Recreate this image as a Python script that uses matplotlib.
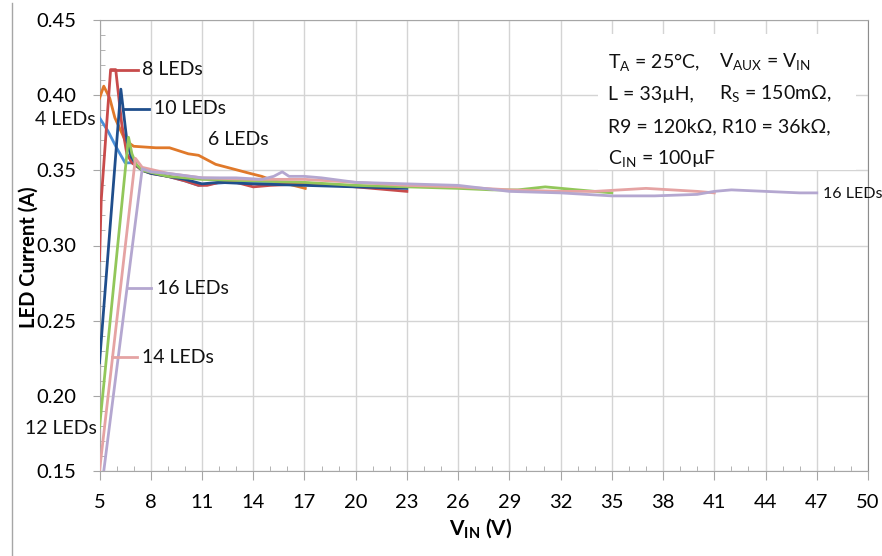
import matplotlib
matplotlib.use('Agg')
import matplotlib.pyplot as plt
import numpy as np
from matplotlib.lines import Line2D
from matplotlib.patches import Rectangle
from matplotlib.ticker import MultipleLocator, FormatStrFormatter

plt.rcParams['font.family'] = ['Lato', 'DejaVu Sans']

# measured LED current vs input voltage, one pair of lists per LED count
led4_v = [5.0, 5.5, 6.0, 6.5, 6.9, 7.5, 8.0, 9.0, 10.0, 10.8, 11.5, 12.5, 14.0, 15.5, 17.0]
led4_i = [0.385, 0.376, 0.365, 0.355, 0.355, 0.351, 0.349, 0.346, 0.343, 0.340, 0.341, 0.342, 0.342, 0.341, 0.341]

led6_v = [5.0, 5.25, 5.6, 5.9, 6.5, 7.0, 8.3, 9.1, 10.2, 10.8, 11.8, 12.8, 13.8, 14.5, 15.2, 16.0, 17.05]
led6_i = [0.398, 0.406, 0.398, 0.385, 0.370, 0.366, 0.365, 0.365, 0.361, 0.360, 0.354, 0.351, 0.348, 0.346, 0.343, 0.341, 0.338]

led8_v = [5.0, 5.1, 5.65, 5.95, 6.3, 6.6, 6.9, 7.5, 8.0, 9.0, 10.0, 10.8, 11.3, 12.0, 13.0, 14.0, 15.0, 17.0, 19.0, 21.0, 23.0]
led8_i = [0.290, 0.330, 0.417, 0.417, 0.381, 0.361, 0.355, 0.350, 0.348, 0.346, 0.343, 0.340, 0.340, 0.342, 0.342, 0.339, 0.340, 0.341, 0.340, 0.338, 0.336]

led10_v = [5.0, 6.25, 6.6, 6.85, 7.2, 7.5, 8.0, 9.0, 10.0, 11.0, 12.0, 14.0, 17.0, 20.0, 23.0]
led10_i = [0.222, 0.404, 0.370, 0.359, 0.353, 0.350, 0.348, 0.346, 0.344, 0.341, 0.342, 0.341, 0.340, 0.339, 0.338]

led12_v = [5.0, 6.7, 6.9, 7.15, 7.5, 9.0, 11.0, 14.0, 17.0, 20.0, 23.0, 26.0, 28.0, 29.5, 31.1, 33.0, 35.0]
led12_i = [0.179, 0.372, 0.361, 0.354, 0.350, 0.346, 0.344, 0.343, 0.342, 0.340, 0.339, 0.338, 0.337, 0.337, 0.339, 0.337, 0.335]

led14_v = [5.0, 7.1, 7.5, 9.0, 11.0, 14.0, 17.0, 20.0, 23.0, 26.0, 29.0, 32.0, 34.0, 35.5, 37.0, 38.5, 40.0, 41.0]
led14_i = [0.150, 0.358, 0.352, 0.348, 0.345, 0.344, 0.344, 0.342, 0.340, 0.339, 0.337, 0.336, 0.336, 0.337, 0.338, 0.337, 0.336, 0.335]

led16_v = [5.25, 7.5, 8.0, 9.0, 11.0, 13.0, 14.5, 15.2, 15.7, 16.1, 17.0, 18.0, 20.0, 23.0, 26.0, 29.0,
           32.0, 35.0, 37.5, 40.0, 41.0, 42.0, 44.0, 46.0, 47.0]
led16_i = [0.150, 0.351, 0.349, 0.348, 0.345, 0.345, 0.344, 0.346, 0.349, 0.346, 0.346, 0.345, 0.342, 0.341, 0.340, 0.336,
           0.335, 0.333, 0.333, 0.334, 0.336, 0.337, 0.336, 0.335, 0.335]

series_names = ['4 LEDs', '6 LEDs', '8 LEDs', '10 LEDs', '12 LEDs', '14 LEDs', '16 LEDs']
series_colors = ['#4A90D9', '#E0792A', '#C84B4B', '#1F4E8C', '#92C75A', '#E5A3A3', '#B4A7D0']
series_data = [(led4_v, led4_i), (led6_v, led6_i), (led8_v, led8_i), (led10_v, led10_i),
               (led12_v, led12_i), (led14_v, led14_i), (led16_v, led16_i)]

x_ticks = list(range(5, 51, 3))
y_ticks = [0.15, 0.20, 0.25, 0.30, 0.35, 0.40, 0.45]

fig = plt.figure(figsize=(8.82, 5.56), dpi=100)
ax = fig.add_axes([99.5 / 882, 1 - 471 / 556, 768.5 / 882, 451 / 556])
ax.set_axisbelow(True)

for (v, i), color in zip(series_data, series_colors):
    ax.plot(v, i, color=color, lw=2.0, solid_joinstyle='round', zorder=3)

ax.set_xlim(5, 50)
ax.set_ylim(0.15, 0.45)
ax.set_xticks(x_ticks)
ax.set_yticks(y_ticks)
ax.xaxis.set_minor_locator(MultipleLocator(1))
ax.yaxis.set_minor_locator(MultipleLocator(0.01))
ax.yaxis.set_major_formatter(FormatStrFormatter('%.2f'))
ax.grid(True, which='major', color='#D4D4D4', lw=1.0)

ax.tick_params(axis='both', which='major', direction='out', color='#A6A6A6', labelsize=14.5)
ax.tick_params(axis='x', which='major', length=6.5, pad=10)
ax.tick_params(axis='y', which='major', length=5, pad=12)
ax.tick_params(axis='both', which='minor', direction='in', length=3.6, color='#A6A6A6')
for side in ['left', 'bottom', 'top']:
    ax.spines[side].set_color('#A6A6A6')
ax.spines['right'].set_color('#8C8C8C')

ax.set_xlabel(r'V$_\mathregular{IN}$ (V)', fontsize=15, fontweight='bold')
ax.set_ylabel('LED Current (A)', fontsize=14.5, fontweight='bold')
ax.xaxis.set_label_coords(0.496, -0.102)
ax.yaxis.set_label_coords(-0.079, 0.475)

# series labels: (text, x, y, ha, fontsize, leader line x range or None, colour)
label_specs = [
    ('4 LEDs', 4.8, 0.3835, 'right', 14, None, '#4A90D9'),
    ('12 LEDs', 4.85, 0.178, 'right', 14, None, '#92C75A'),
    ('8 LEDs', 7.5, 0.417, 'left', 14, (5.7, 7.25), '#C84B4B'),
    ('10 LEDs', 8.2, 0.391, 'left', 14, (6.4, 7.9), '#1F4E8C'),
    ('6 LEDs', 11.35, 0.3708, 'left', 14, None, '#E0792A'),
    ('16 LEDs', 8.35, 0.2716, 'left', 14, (6.65, 8.0), '#B4A7D0'),
    ('14 LEDs', 7.5, 0.2256, 'left', 14, (5.75, 7.2), '#E5A3A3'),
    ('16 LEDs', 47.35, 0.3342, 'left', 11.5, None, '#B4A7D0'),
]
for text, x, y, ha, fs, leader, color in label_specs:
    if leader is not None:
        ax.plot(leader, [y, y], color=color, lw=2.0, zorder=3)
    ax.text(x, y, text, ha=ha, va='center', fontsize=fs, color='#111111', clip_on=False, zorder=4)

# conditions box, white background hides the grid
ax.add_patch(Rectangle((34.2, 0.3499), 15.1, 0.0910, facecolor='white', edgecolor='none', zorder=1))
cond_left = [
    (r'T$_\mathregular{A}$ = 25°C,', 0.4218),
    (r'L = 33µH,', 0.4005),
    (r'R9 = 120kΩ, R10 = 36kΩ,', 0.3792),
    (r'C$_\mathregular{IN}$ = 100µF', 0.3572),
]
cond_right = [
    (r'V$_\mathregular{AUX}$ = V$_\mathregular{IN}$', 0.4218),
    (r'R$_\mathregular{S}$ = 150mΩ,', 0.4005),
]
for text, y in cond_left:
    ax.text(34.8, y, text, fontsize=14, va='center', ha='left', color='#111111', zorder=4)
for text, y in cond_right:
    ax.text(41.3, y, text, fontsize=14, va='center', ha='left', color='#111111', zorder=4)

# chart area border (left edge)
fig.add_artist(Line2D([12 / 882, 12 / 882], [0, 1 - 3 / 556], color='#A6A6A6', lw=1.0))

fig.savefig('out.png', dpi=100)
